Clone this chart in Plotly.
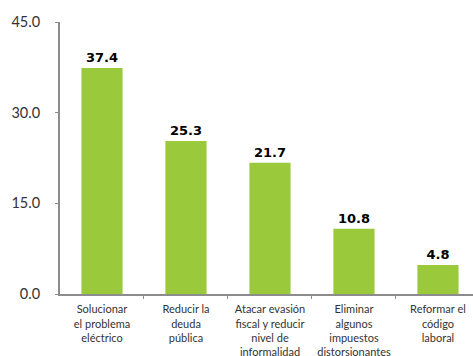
import plotly.graph_objects as go

categories = [
    "Solucionar<br>el problema<br>eléctrico",
    "Reducir la<br>deuda<br>pública",
    "Atacar evasión<br>fiscal y reducir<br>nivel de<br>informalidad",
    "Eliminar<br>algunos<br>impuestos<br>distorsionantes",
    "Reformar el<br>código<br>laboral",
]
values = [37.4, 25.3, 21.7, 10.8, 4.8]
y_ticks = [0, 15, 30, 45]

fig = go.Figure(go.Bar(
    x=list(range(len(categories))),
    y=values,
    marker=dict(color="#9BC93C", line=dict(width=0)),
    width=0.49,
    text=[f"{v:.1f}" for v in values],
    textposition="outside",
    textfont=dict(family="DejaVu Sans", size=13, color="#000000", weight="bold"),
    cliponaxis=False,
))

fig.update_layout(
    width=473, height=356,
    margin=dict(l=60, r=0, t=22, b=62, autoexpand=False),
    paper_bgcolor="white", plot_bgcolor="white",
    showlegend=False,
    font=dict(family="Lato", color="#333333"),
)
fig.update_xaxes(
    range=[-0.5, 4.417],
    automargin=False,
    tickmode="array",
    tickvals=list(range(len(categories))),
    ticktext=categories,
    showline=True, linecolor="#8C8C8C", linewidth=2,
    ticks="", showgrid=False, zeroline=False,
    ticklabelstandoff=4,
    tickfont=dict(family="Lato", size=11, color="#333333"),
    minor=dict(tickvals=[0.5, 1.5, 2.5, 3.5], ticks="outside", ticklen=3,
               tickcolor="#8C8C8C", tickwidth=1),
)
fig.update_yaxes(
    range=[0, 45],
    automargin=False,
    tickmode="array",
    tickvals=y_ticks,
    ticktext=[f"{t:.1f}" for t in y_ticks],
    showline=True, linecolor="#8C8C8C", linewidth=2,
    ticks="outside", ticklen=3, tickcolor="#8C8C8C",
    showgrid=False, zeroline=False,
    ticklabelstandoff=12,
    tickfont=dict(family="Lato", size=14.5, color="#333333"),
)

fig.write_html("out.html")
